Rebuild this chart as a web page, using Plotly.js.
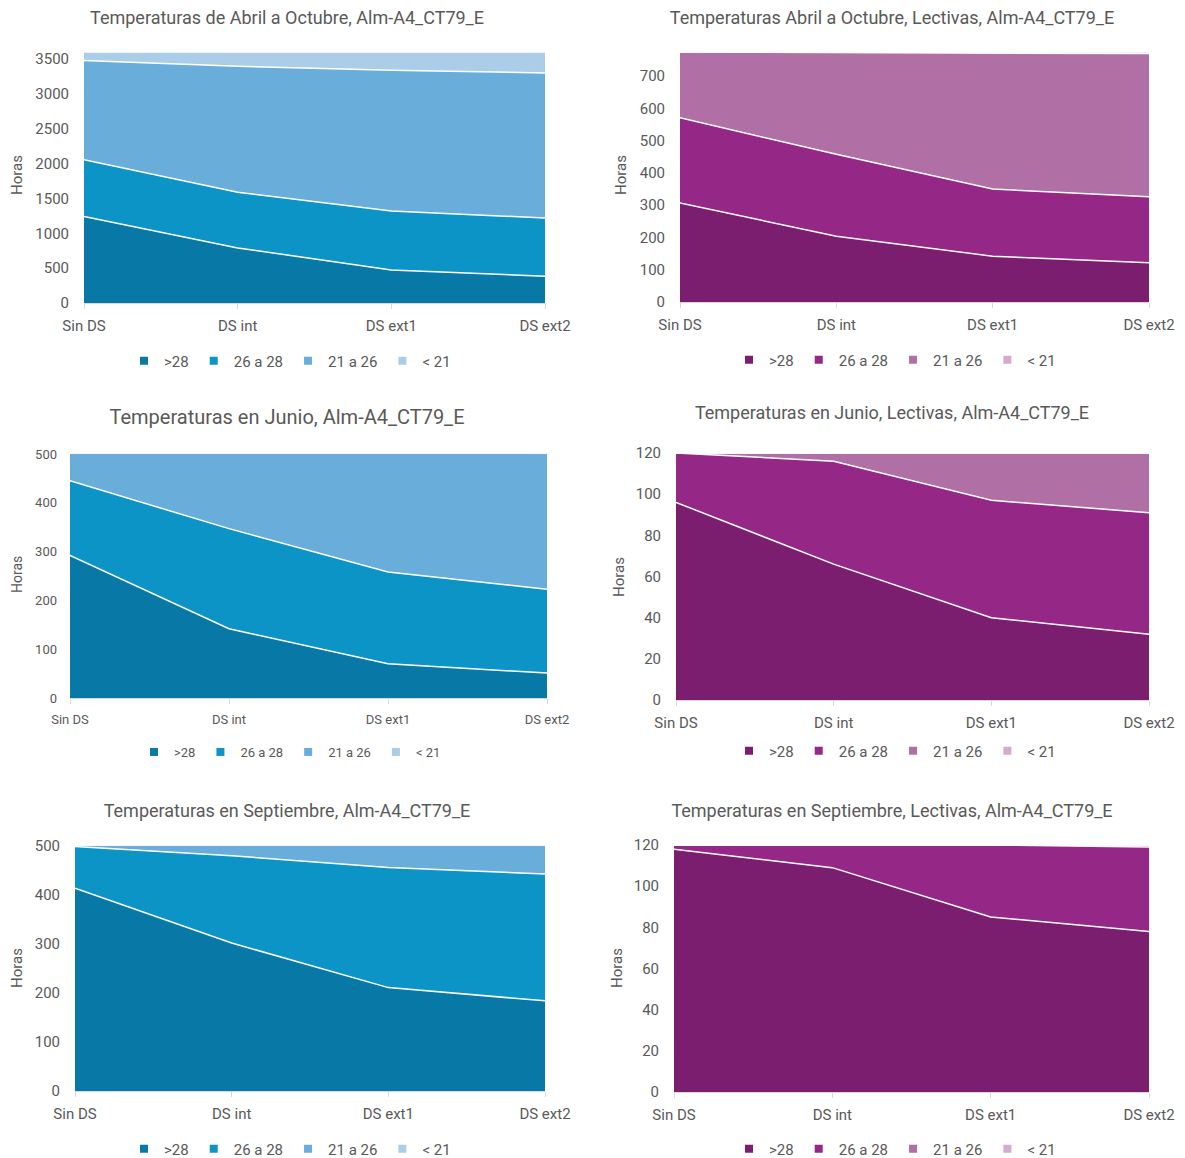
<!DOCTYPE html>
<html>
<head>
<meta charset="utf-8">
<script src="https://cdn.plot.ly/plotly-3.0.1.min.js"></script>
<style>
  body { margin:0; padding:0; background:#fff; width:1185px; height:1158px; position:relative; overflow:hidden; }
  .ch { position:absolute; }
</style>
</head>
<body>
<div id="c1" class="ch" style="left:0px;top:0px;width:592px;height:385px;"></div>
<div id="c2" class="ch" style="left:592px;top:0px;width:593px;height:385px;"></div>
<div id="c3" class="ch" style="left:0px;top:390px;width:592px;height:385px;"></div>
<div id="c4" class="ch" style="left:592px;top:390px;width:593px;height:385px;"></div>
<div id="c5" class="ch" style="left:0px;top:785px;width:592px;height:373px;"></div>
<div id="c6" class="ch" style="left:592px;top:785px;width:593px;height:373px;"></div>
<script>
// ---------- DATA ----------
const categories = ['Sin DS', 'DS int', 'DS ext1', 'DS ext2'];
const seriesNames = ['>28', '26 a 28', '21 a 26', '< 21'];

// Temperaturas de Abril a Octubre
const abrOct_gt28   = [1240, 790, 475, 383];
const abrOct_26a28  = [816, 798, 845, 836];
const abrOct_21a26  = [1421, 1807, 2018, 2081];
const abrOct_lt21   = [123, 205, 262, 300];

// Temperaturas Abril a Octubre, Lectivas
const abrOctLect_gt28  = [307, 204, 142, 122];
const abrOctLect_26a28 = [264, 254, 208, 204];
const abrOctLect_21a26 = [204, 315, 422, 444];
const abrOctLect_lt21  = [0, 2, 3, 5];

// Temperaturas en Junio
const jun_gt28  = [292, 142, 70, 51];
const jun_26a28 = [153, 205, 188, 172];
const jun_21a26 = [57, 155, 244, 279];
const jun_lt21  = [0, 0, 0, 0];

// Temperaturas en Junio, Lectivas
const junLect_gt28  = [96, 66, 40, 32];
const junLect_26a28 = [24, 50, 57, 59];
const junLect_21a26 = [0, 4, 23, 29];
const junLect_lt21  = [0, 0, 0, 0];

// Temperaturas en Septiembre
const sep_gt28  = [414, 302, 211, 184];
const sep_26a28 = [85, 178, 245, 259];
const sep_21a26 = [3, 22, 46, 59];
const sep_lt21  = [0, 0, 0, 0];

// Temperaturas en Septiembre, Lectivas
const sepLect_gt28  = [118, 109, 85, 78];
const sepLect_26a28 = [2, 11, 35, 41];
const sepLect_21a26 = [0, 0, 0, 1];
const sepLect_lt21  = [0, 0, 0, 0];

// ---------- STYLE ----------
const blueColors   = ['#0879a6', '#0d94c7', '#69aedb', '#abcde8'];
const purpleColors = ['#7b1e6f', '#952787', '#b070a6', '#d4aacd'];
const FONT = 'Roboto, "Liberation Sans", Arial, sans-serif';
const TXT = '#595959';

function makeChart(id, cfg) {
  const W = cfg.w, H = cfg.h;
  const traces = [];
  cfg.series.forEach((vals, i) => {
    traces.push({
      type: 'scatter', mode: 'lines', x: categories, y: vals,
      stackgroup: 'one', name: seriesNames[i],
      fillcolor: cfg.colors[i],
      line: { color: '#ffffff', width: 1.5, shape: 'linear' },
      showlegend: false, hoverinfo: 'skip'
    });
  });
  seriesNames.forEach((n, i) => {
    traces.push({
      type: 'scatter', mode: 'markers', x: [null], y: [null], name: n,
      marker: { symbol: 'square', size: 8, color: cfg.colors[i] },
      showlegend: true, hoverinfo: 'skip'
    });
  });
  const plotW = W - cfg.l - cfg.r;
  const layout = {
    width: W, height: H,
    margin: { l: cfg.l, r: cfg.r, t: cfg.t, b: cfg.b, pad: 0 },
    paper_bgcolor: '#ffffff', plot_bgcolor: '#ffffff',
    font: { family: FONT, color: TXT, size: cfg.tick },
    title: {
      text: cfg.title, font: { family: FONT, size: cfg.titleSize, color: TXT },
      xref: 'container', yref: 'container', x: cfg.titleX / W, y: 1 - cfg.titleY / H,
      xanchor: 'center', yanchor: 'middle'
    },
    xaxis: {
      type: 'category', categoryarray: categories, range: [0, 3],
      showgrid: false, zeroline: false, showline: true, linecolor: '#d9d9d9', linewidth: 1,
      ticks: 'outside', ticklen: 5, tickcolor: '#d9d9d9', tickwidth: 1,
      ticklabelstandoff: 4,
      tickfont: { family: FONT, size: cfg.xtick, color: TXT },
      fixedrange: true
    },
    yaxis: {
      range: cfg.yrange, dtick: cfg.dtick, tick0: 0,
      showgrid: false, zeroline: false, showline: false, ticks: '',
      ticklabelstandoff: cfg.ystand,
      tickfont: { family: FONT, size: cfg.tick, color: TXT },
      fixedrange: true
    },
    legend: {
      orientation: 'h', xref: 'container', yref: 'container', traceorder: 'normal',
      x: cfg.legX / W, y: 1 - cfg.legY / H, xanchor: 'center', yanchor: 'middle',
      font: { family: FONT, size: cfg.legSize, color: TXT },
      itemwidth: 30, tracegroupgap: 0, bgcolor: 'rgba(0,0,0,0)'
    },
    annotations: [{
      text: 'Horas', textangle: -90, showarrow: false,
      xref: 'paper', yref: 'paper',
      x: (cfg.yTitleX - cfg.l) / plotW, y: 1 - (cfg.yTitleY - cfg.t) / (H - cfg.t - cfg.b),
      xanchor: 'center', yanchor: 'middle',
      font: { family: FONT, size: cfg.yTitleSize, color: TXT }
    }],
    showlegend: true
  };
  Plotly.newPlot(id, traces, layout, { displayModeBar: false, staticPlot: true });
}

makeChart('c1', {
  w: 592, h: 385, l: 84, r: 47, t: 52, b: 82,
  title: 'Temperaturas de Abril a Octubre, Alm-A4_CT79_E', titleSize: 18, titleX: 287, titleY: 18,
  series: [abrOct_gt28, abrOct_26a28, abrOct_21a26, abrOct_lt21], colors: blueColors,
  yrange: [0, 3600], dtick: 500, tick: 15, xtick: 15, ystand: 14,
  legX: 290, legY: 361, legSize: 15, yTitleX: 17, yTitleY: 175, yTitleSize: 15
});
makeChart('c2', {
  w: 593, h: 385, l: 88, r: 36, t: 52, b: 83,
  title: 'Temperaturas Abril a Octubre, Lectivas, Alm-A4_CT79_E', titleSize: 18, titleX: 300, titleY: 18,
  series: [abrOctLect_gt28, abrOctLect_26a28, abrOctLect_21a26, abrOctLect_lt21], colors: purpleColors,
  yrange: [0, 775], dtick: 100, tick: 15, xtick: 15, ystand: 14,
  legX: 303, legY: 360, legSize: 15, yTitleX: 29, yTitleY: 175, yTitleSize: 15
});
makeChart('c3', {
  w: 592, h: 385, l: 70, r: 45, t: 63, b: 77,
  title: 'Temperaturas en Junio, Alm-A4_CT79_E', titleSize: 20, titleX: 287, titleY: 27,
  series: [jun_gt28, jun_26a28, jun_21a26, jun_lt21], colors: blueColors,
  yrange: [0, 502], dtick: 100, tick: 13, xtick: 13, ystand: 12,
  legX: 290, legY: 362, legSize: 13, yTitleX: 17, yTitleY: 185, yTitleSize: 14
});
makeChart('c4', {
  w: 593, h: 385, l: 84, r: 36, t: 63, b: 75,
  title: 'Temperaturas en Junio, Lectivas, Alm-A4_CT79_E', titleSize: 18, titleX: 300, titleY: 23,
  series: [junLect_gt28, junLect_26a28, junLect_21a26, junLect_lt21], colors: purpleColors,
  yrange: [0, 120], dtick: 20, tick: 15, xtick: 15, ystand: 14,
  legX: 303, legY: 361, legSize: 15, yTitleX: 27, yTitleY: 187, yTitleSize: 15
});
makeChart('c5', {
  w: 592, h: 373, l: 75, r: 47, t: 60, b: 67,
  title: 'Temperaturas en Septiembre, Alm-A4_CT79_E', titleSize: 18, titleX: 287, titleY: 26,
  series: [sep_gt28, sep_26a28, sep_21a26, sep_lt21], colors: blueColors,
  yrange: [0, 502], dtick: 100, tick: 15, xtick: 15, ystand: 14,
  legX: 290, legY: 364, legSize: 15, yTitleX: 17, yTitleY: 183, yTitleSize: 15
});
makeChart('c6', {
  w: 593, h: 373, l: 82, r: 36, t: 60, b: 66,
  title: 'Temperaturas en Septiembre, Lectivas, Alm-A4_CT79_E', titleSize: 18, titleX: 300, titleY: 26,
  series: [sepLect_gt28, sepLect_26a28, sepLect_21a26, sepLect_lt21], colors: purpleColors,
  yrange: [0, 120], dtick: 20, tick: 15, xtick: 15, ystand: 14,
  legX: 303, legY: 364, legSize: 15, yTitleX: 25, yTitleY: 183, yTitleSize: 15
});
</script>
</body>
</html>
